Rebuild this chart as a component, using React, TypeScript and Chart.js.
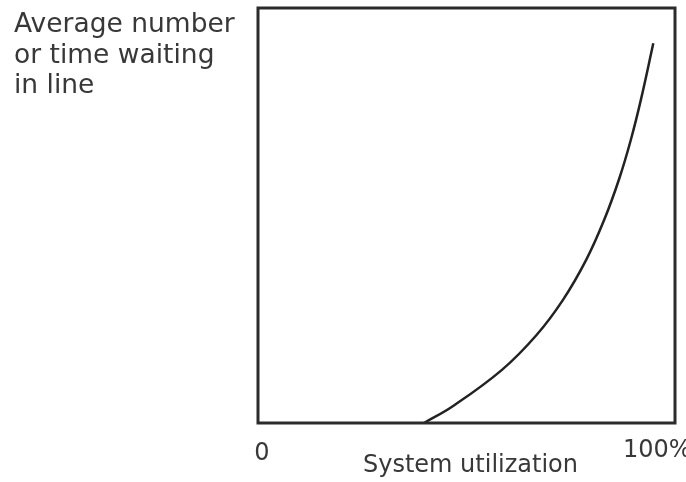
import React, { useEffect, useRef } from "react";
import { Chart, registerables } from "chart.js";

Chart.register(...registerables);

const X_VALUES = [39.8, 46.8, 58.5, 66.8, 73.1, 78.7, 83.0, 86.6, 89.4, 91.8, 94.8];
const Y_VALUES = [0, 4.1, 12.8, 21.2, 29.6, 39.3, 48.9, 58.8, 68.2, 77.8, 91.5];
const Y_TITLE_LINES = ["Average number", "or time waiting", "in line"];
const X_TICK_LABELS = ["0", "100%"];
const X_TITLE = "System utilization";

const FONT = "DejaVu Sans";
const TEXT_COLOR = "#383838";

const labelsPlugin = {
  id: "labelsPlugin",
  afterDraw(chart: any) {
    const { ctx, chartArea } = chart;
    const xs = chart.scales.x;
    ctx.save();
    // frame
    ctx.strokeStyle = "#2b2b2b";
    ctx.lineWidth = 3;
    ctx.strokeRect(chartArea.left, chartArea.top, chartArea.right - chartArea.left, chartArea.bottom - chartArea.top);
    ctx.fillStyle = TEXT_COLOR;
    ctx.textBaseline = "alphabetic";
    // y title
    ctx.font = `26.5px "${FONT}"`;
    ctx.textAlign = "left";
    Y_TITLE_LINES.forEach((line, i) => {
      ctx.fillText(line, 14, 32 + i * 30.5);
    });
    // x ticks
    ctx.font = `24px "${FONT}"`;
    ctx.textAlign = "center";
    ctx.fillText(X_TICK_LABELS[0], xs.getPixelForValue(0) + 4, 460);
    ctx.textAlign = "left";
    ctx.fillText(X_TICK_LABELS[1], xs.getPixelForValue(100) - 52, 457);
    // x title
    ctx.font = `24px "${FONT}"`;
    ctx.textAlign = "center";
    ctx.fillText(X_TITLE, (chartArea.left + chartArea.right) / 2 + 4, 472);
    ctx.restore();
  },
};

export default function App() {
  const ref = useRef<HTMLCanvasElement>(null);
  useEffect(() => {
    if (!ref.current) return;
    const chart = new Chart(ref.current, {
      type: "scatter",
      data: {
        datasets: [
          {
            data: X_VALUES.map((x, i) => ({ x, y: Y_VALUES[i] })),
            showLine: true,
            borderColor: "#222",
            borderWidth: 2.5,
            pointRadius: 0,
            tension: 0.4,
          },
        ],
      },
      options: {
        animation: false,
        responsive: true,
        maintainAspectRatio: false,
        layout: { padding: { left: 258, right: 11, top: 8, bottom: 59 } },
        plugins: { legend: { display: false }, tooltip: { enabled: false } },
        scales: {
          x: { type: "linear", min: 0, max: 100, display: false },
          y: { type: "linear", min: 0, max: 100, display: false },
        },
      },
      plugins: [labelsPlugin],
    });
    return () => chart.destroy();
  }, []);
  return (
    <div style={{ position: "fixed", left: 0, top: 0, width: 686, height: 482, background: "#fff" }}>
      <canvas ref={ref} />
    </div>
  );
}
